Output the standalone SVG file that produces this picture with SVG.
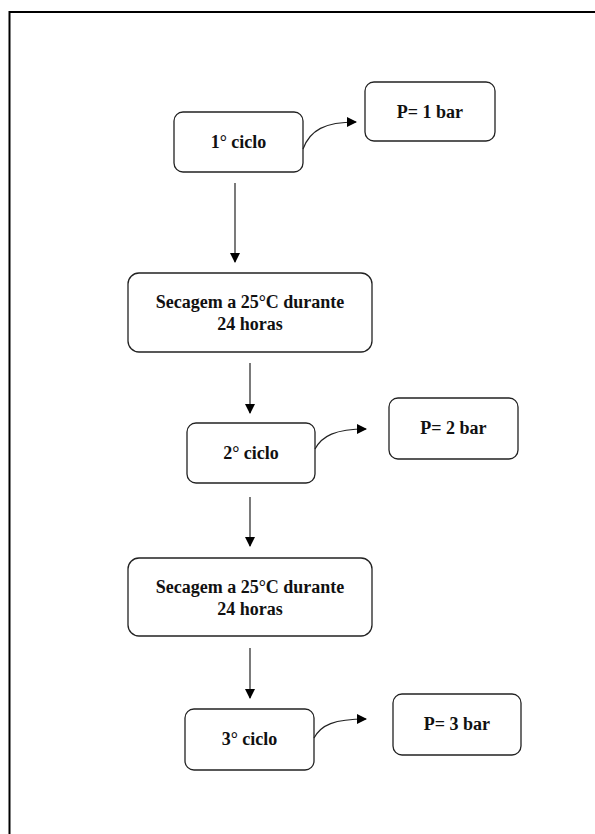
<svg xmlns="http://www.w3.org/2000/svg" width="595" height="834" viewBox="0 0 595 834">
<defs>
<style>
.box{fill:#fff;stroke:#222;stroke-width:1.3}
.t{font-family:"Liberation Serif","Times New Roman",serif;font-weight:bold;font-size:18px;fill:#111;text-anchor:middle}
.c{fill:none;stroke:#222;stroke-width:1.2}
</style>
<marker id="ah" markerWidth="10" markerHeight="10" refX="9" refY="5" orient="auto" markerUnits="userSpaceOnUse">
<path d="M0,0 L10,5 L0,10 Z" fill="#000"/>
</marker>
</defs>
<rect width="595" height="834" fill="#fff"/>
<g id="frame">
<path d="M9.5,834 V12 H595" fill="none" stroke="#000" stroke-width="2"/>
</g>
<g id="n1"><rect class="box" x="174" y="112" width="129" height="60" rx="9"/><text class="t" x="238.5" y="148">1° ciclo</text></g>
<g id="p1"><rect class="box" x="365" y="82" width="130" height="59" rx="9"/><text class="t" x="430" y="118">P= 1 bar</text></g>
<g id="s1"><rect class="box" x="128" y="273" width="244" height="79" rx="11"/><text class="t" x="250" y="308">Secagem a 25°C durante</text><text class="t" x="250" y="330">24 horas</text></g>
<g id="n2"><rect class="box" x="187" y="423" width="128" height="60" rx="9"/><text class="t" x="251" y="459">2° ciclo</text></g>
<g id="p2"><rect class="box" x="389" y="398" width="129" height="61" rx="9"/><text class="t" x="453.5" y="434">P= 2 bar</text></g>
<g id="s2"><rect class="box" x="128" y="558" width="244" height="78" rx="11"/><text class="t" x="250" y="593">Secagem a 25°C durante</text><text class="t" x="250" y="615">24 horas</text></g>
<g id="n3"><rect class="box" x="185" y="709" width="129" height="61" rx="9"/><text class="t" x="249.5" y="745">3° ciclo</text></g>
<g id="p3"><rect class="box" x="393" y="694" width="128" height="61" rx="9"/><text class="t" x="457" y="730">P= 3 bar</text></g>
<g id="connectors">
<path class="c" d="M235,183 V262" marker-end="url(#ah)"/>
<path class="c" d="M250,363 V413" marker-end="url(#ah)"/>
<path class="c" d="M250,497 V546" marker-end="url(#ah)"/>
<path class="c" d="M250,648 V698" marker-end="url(#ah)"/>
<path class="c" d="M303,149 C310,130 325,122 356,122" marker-end="url(#ah)"/>
<path class="c" d="M315,449 C322,436 335,429 366,429" marker-end="url(#ah)"/>
<path class="c" d="M314,738 C321,725 334,719 366,719" marker-end="url(#ah)"/>
</g>
</svg>
